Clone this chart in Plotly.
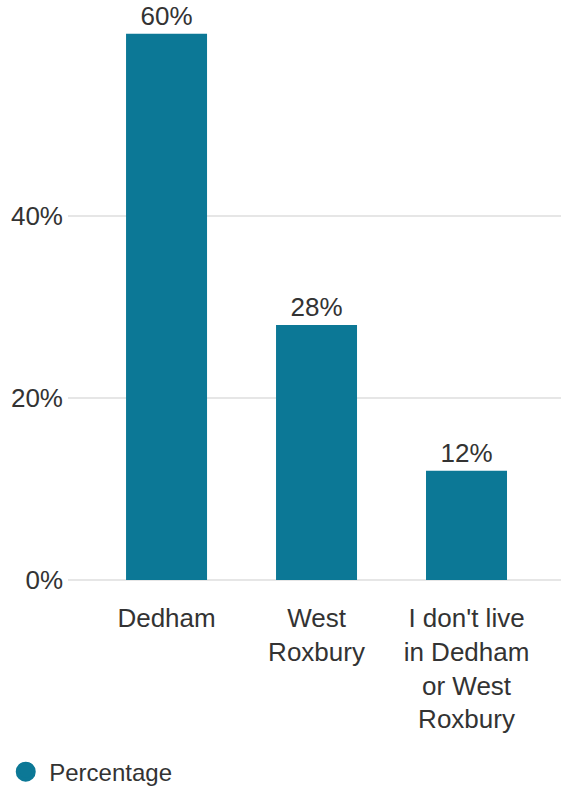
import plotly.graph_objects as go

categories = ["Dedham", "West<br>Roxbury", "I don't live<br>in Dedham<br>or West<br>Roxbury"]
percentages = [60, 28, 12]
y_ticks = [0, 20, 40]
y_tick_labels = ["0%", "20%", "40%"]
series_name = "Percentage"

BAR_COLOR = "#0c7896"
TEXT_COLOR = "#333333"
GRID_COLOR = "#e6e6e6"
FONT = "Liberation Sans, Arial, sans-serif"

fig = go.Figure()

fig.add_trace(go.Bar(
    x=categories,
    y=percentages,
    width=0.54,
    marker=dict(color=BAR_COLOR, line=dict(width=0)),
    text=[f"{v}%" for v in percentages],
    textposition="outside",
    textfont=dict(size=26, color=TEXT_COLOR, family=FONT),
    cliponaxis=False,
    showlegend=False,
    hoverinfo="skip",
))

# legend entry drawn with a round swatch
fig.add_trace(go.Scatter(
    x=[None], y=[None],
    mode="markers",
    name=series_name,
    marker=dict(color=BAR_COLOR, size=16, symbol="circle",
                line=dict(color=BAR_COLOR, width=4)),
    showlegend=True,
))

fig.update_layout(
    width=561, height=789,
    margin=dict(l=68, r=0, t=10, b=209, autoexpand=False),
    paper_bgcolor="white",
    plot_bgcolor="white",
    font=dict(family=FONT, color=TEXT_COLOR, size=26),
    xaxis=dict(
        type="category",
        range=[-0.657, 2.63],
        showgrid=False,
        zeroline=False,
        showline=False,
        ticks="",
        automargin=False,
        ticklabelstandoff=20,
        tickfont=dict(size=26, color=TEXT_COLOR, family=FONT),
    ),
    yaxis=dict(
        range=[0, 62.6],
        tickvals=y_ticks,
        ticktext=y_tick_labels,
        showgrid=True,
        gridcolor=GRID_COLOR,
        gridwidth=2,
        zeroline=True,
        zerolinecolor=GRID_COLOR,
        zerolinewidth=2,
        showline=False,
        ticks="",
        automargin=False,
        ticklabelstandoff=4,
        tickfont=dict(size=26, color=TEXT_COLOR, family=FONT),
    ),
    legend=dict(
        orientation="h",
        xref="container", x=0.004, xanchor="left",
        yref="container", y=0.0215, yanchor="middle",
        font=dict(size=24, color=TEXT_COLOR, family=FONT),
        itemsizing="trace",
        itemwidth=37,
    ),
)

fig.write_html("out.html")
